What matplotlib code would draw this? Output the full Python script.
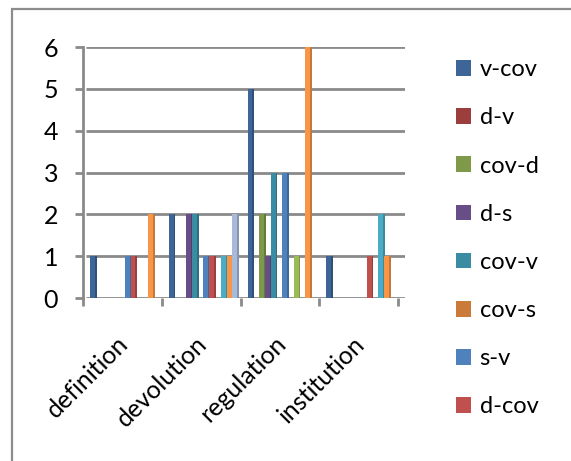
import matplotlib.pyplot as plt
from matplotlib.patches import Rectangle
import numpy as np

plt.rcParams['font.family'] = ['Lato', 'DejaVu Sans']

categories = ['definition', 'devolution', 'regulation', 'institution']
series = ['v-cov', 'd-v', 'cov-d', 'd-s', 'cov-v', 'cov-s', 's-v', 'd-cov',
          'v-d', 'v-s', 's-d', 's-cov']
values = [
    [1, 2, 5, 1],   # v-cov
    [0, 0, 0, 0],   # d-v
    [0, 0, 2, 0],   # cov-d
    [0, 2, 1, 0],   # d-s
    [0, 2, 3, 0],   # cov-v
    [0, 0, 0, 0],   # cov-s
    [1, 1, 3, 0],   # s-v
    [1, 1, 0, 1],   # d-cov
    [0, 0, 1, 0],   # v-d
    [0, 1, 0, 2],   # v-s
    [2, 1, 6, 1],   # s-d
    [0, 2, 0, 0],   # s-cov
]
colors = ['#3D6597', '#9C3E3B', '#7E9A48', '#684E86', '#3A8CA2', '#CB7B39',
          '#4F81BD', '#C0504D', '#9BBB59', '#4BACC6', '#F79646', '#A8B9DA']
n_legend = 8

W, H = 571, 461
fig = plt.figure(figsize=(W / 100, H / 100), dpi=100)
fig.patches.append(Rectangle((12 / W, -0.1), 1.2, 1.1 - 9 / H, transform=fig.transFigure,
                             fill=False, edgecolor='#8C8C8C', lw=1.6))

ax = fig.add_axes([83 / W, 1 - 298 / H, (405 - 83) / W, (298 - 47) / H])
ax.set_xlim(-0.5, 3.5 + 7 / 79)
ax.set_ylim(0, 6)

grid_c = '#8A8A8A'
for yv in range(0, 7):
    ax.plot([-0.5 + 3 / 79, 3.5 + 7 / 79], [yv, yv], color=grid_c, lw=2, zorder=1,
            solid_capstyle='butt')

x = np.arange(len(categories))
w = 5.8 / 79
for i, (name, vals, c) in enumerate(zip(series, values, colors)):
    pos = x + (i - 5.5) * w + 0.03
    ax.bar(pos, vals, width=w, color=c, zorder=3, label=name if i < n_legend else None)
    # darker side face for the 3D look
    ax.bar(pos + w * 0.5, vals, width=w * 0.3, color=c, zorder=3)
    ax.bar(pos + w * 0.5, vals, width=w * 0.3, color='black', alpha=0.2, zorder=3)

for s in ['top', 'right', 'bottom']:
    ax.spines[s].set_visible(False)
ax.spines['left'].set_color(grid_c)
ax.spines['left'].set_linewidth(2)

ax.set_yticks(range(0, 7))
ax.tick_params(axis='y', length=6, width=2, color=grid_c, labelsize=18, pad=12)
ax.set_xticks(np.arange(-0.5, 4.0, 1.0))
ax.set_xticklabels([])
ax.tick_params(axis='x', length=6, width=2, color=grid_c)
for xi, lab in zip(x, categories):
    ax.text(xi + 0.03, -1.0, lab, rotation=45, rotation_mode='anchor',
            ha='right', va='center', fontsize=18, transform=ax.transData, clip_on=False)

handles, labels = ax.get_legend_handles_labels()
fig.legend(handles, labels, loc='upper left', bbox_to_anchor=(435 / W, 1 - 38 / H),
           frameon=False, fontsize=17, handlelength=0.64, handleheight=0.64,
           labelspacing=1.15, handletextpad=0.35)

fig.savefig('out.png', dpi=100)
